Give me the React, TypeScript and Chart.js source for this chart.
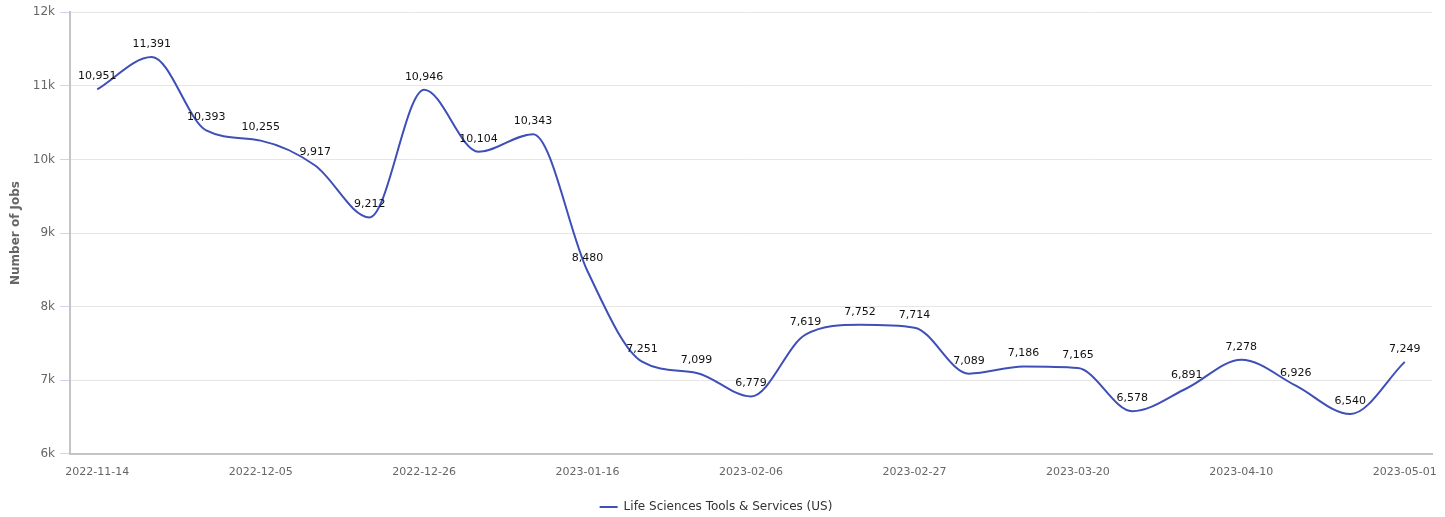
import React, { useEffect, useRef } from "react";
import { Chart, registerables } from "chart.js";

Chart.register(...registerables);

const categories = [
  "2022-11-14", "2022-11-21", "2022-11-28", "2022-12-05", "2022-12-12", "2022-12-19",
  "2022-12-26", "2023-01-02", "2023-01-09", "2023-01-16", "2023-01-23", "2023-01-30",
  "2023-02-06", "2023-02-13", "2023-02-20", "2023-02-27", "2023-03-06", "2023-03-13",
  "2023-03-20", "2023-03-27", "2023-04-03", "2023-04-10", "2023-04-17", "2023-04-24",
  "2023-05-01",
];

const jobs = [
  10951, 11391, 10393, 10255, 9917, 9212, 10946, 10104, 10343, 8480, 7251, 7099,
  6779, 7619, 7752, 7714, 7089, 7186, 7165, 6578, 6891, 7278, 6926, 6540, 7249,
];

const seriesName = "Life Sciences Tools & Services (US)";
const yTicks = [6000, 7000, 8000, 9000, 10000, 11000, 12000];

const FONT = "'DejaVu Sans', sans-serif";

const dataLabelPlugin = {
  id: "dataLabels",
  afterDatasetsDraw(chart: any) {
    const ctx = chart.ctx;
    const meta = chart.getDatasetMeta(0);
    const ds = chart.data.datasets[0];
    ctx.save();
    ctx.font = `11px ${FONT}`;
    ctx.fillStyle = "#111";
    ctx.textAlign = "center";
    ctx.textBaseline = "middle";
    meta.data.forEach((pt: any, i: number) => {
      const v = ds.data[i] as number;
      ctx.fillText(v.toLocaleString("en-US"), pt.x, pt.y - 13);
    });
    ctx.restore();
  },
};

export default function App() {
  const ref = useRef<HTMLCanvasElement | null>(null);

  useEffect(() => {
    if (!ref.current) return;
    const chart = new Chart(ref.current, {
      type: "line",
      data: {
        labels: categories,
        datasets: [
          {
            label: seriesName,
            data: jobs,
            borderColor: "#3f4fb8",
            backgroundColor: "#3f4fb8",
            borderWidth: 2,
            pointRadius: 0,
            pointHoverRadius: 0,
            tension: 0.4,
            cubicInterpolationMode: "monotone",
            fill: false,
          },
        ],
      },
      options: {
        animation: false,
        responsive: true,
        maintainAspectRatio: false,
        layout: { padding: { top: 5, right: 13, left: 0, bottom: -6 } },
        plugins: {
          tooltip: { enabled: false },
          legend: {
            position: "bottom",
            labels: {
              usePointStyle: true,
              pointStyle: "line",
              pointStyleWidth: 18,
              boxWidth: 18,
              boxHeight: 2,
              color: "#333",
              font: { family: FONT, size: 12 },
              padding: 10,
            },
          },
        },
        scales: {
          x: {
            offset: true,
            afterFit: (scale: any) => {
              scale.paddingLeft = 0;
              scale.paddingRight = 0;
            },
            grid: { display: false, drawTicks: false },
            border: { display: true, color: "#c4c4c4", width: 2 },
            ticks: {
              autoSkip: false,
              maxRotation: 0,
              color: "#666",
              font: { family: FONT, size: 11 },
              padding: 12,
              callback: (_v: any, i: number) => (i % 3 === 0 ? categories[i] : ""),
            },
          },
          y: {
            min: 6000,
            max: 12000,
            afterFit: (scale: any) => {
              scale.width = 70;
            },
            afterBuildTicks: (scale: any) => {
              scale.ticks = yTicks.map((v) => ({ value: v }));
            },
            grid: {
              color: "#e6e6e6",
              tickColor: "#ccd6eb",
              tickLength: 10,
              drawTicks: true,
            },
            border: { display: true, color: "#c4c4c4", width: 2 },
            ticks: {
              color: "#666",
              font: { family: FONT, size: 12 },
              padding: 5,
              callback: (v: any) => `${Number(v) / 1000}k`,
            },
            title: {
              display: true,
              text: "Number of Jobs",
              color: "#666",
              font: { family: FONT, size: 12, weight: "bold" },
              padding: { top: 9, bottom: 0 },
            },
          },
        },
      },
      plugins: [dataLabelPlugin],
    });
    return () => chart.destroy();
  }, []);

  return (
    <div style={{ position: "absolute", left: 0, top: 0, width: 1445, height: 517 }}>
      <canvas ref={ref} />
    </div>
  );
}
